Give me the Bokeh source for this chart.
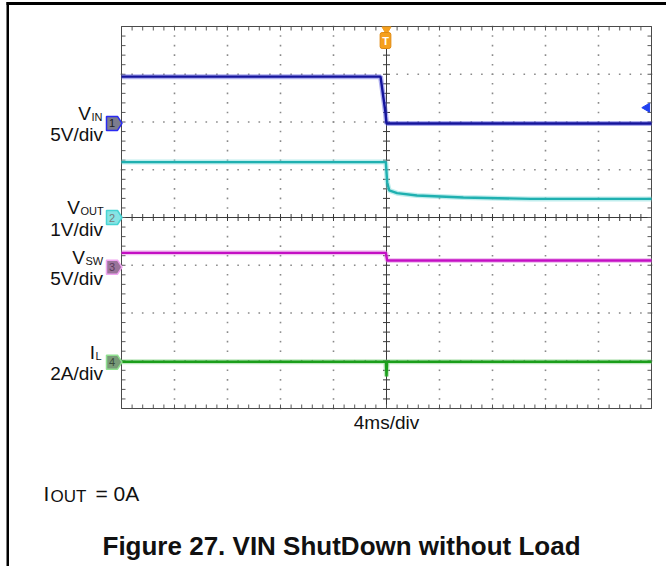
import numpy as np
from bokeh.plotting import figure
from bokeh.models import Label, BoxAnnotation
from bokeh.embed import file_html
from bokeh.resources import INLINE

# ---------------- data ----------------
time_per_div_ms = 4          # 4ms/div, trigger at centre
ch_numbers = ["1", "2", "3", "4"]
ch_names = ["V", "V", "V", "I"]
ch_subs = ["IN", "OUT", "SW", "L"]
ch_scale_labels = ["5V/div", "1V/div", "5V/div", "2A/div"]
ch_scale = [5.0, 1.0, 5.0, 2.0]            # units per division
ch_pos = [1.97, 0.0, -1.04, -3.03]         # channel ground position (div)

vin_t = [-20, -0.45, -0.08, 0.0, 20]
vin_v = [4.9, 4.9, 1.15, 0.0, 0.0]

vout_t = [-20, -0.05, 0.05, 0.2, 0.8, 2.3, 5.8, 10.9, 20]
vout_v = [1.16, 1.16, 0.74, 0.57, 0.51, 0.46, 0.42, 0.39, 0.39]

vsw_t = [-20, -0.05, 0.05, 20]
vsw_v = [1.5, 1.5, 0.7, 0.7]

il_t = [-20, -0.05, 0.0, 0.05, 20]
il_i = [0.02, 0.02, -0.6, 0.02, 0.02]

trig_level_v = 1.65   # CH1 trigger level (V)

# ---------------- layout helpers (page pixels -> data) ----------------
FL, FT, FW, FH = 121, 26, 530, 382     # scope graticule on the page
FIG_W, FIG_H = 666, 566


def X(px):
    return -20 + (px - FL) * 40.0 / FW


def Y(py):
    return 4 - (py - FT) * 8.0 / FH


def PY(div):
    return FT + (4 - div) * FH / 8.0


FONT = "Liberation Sans"
INK = "#111111"

p = figure(width=FIG_W, height=FIG_H, x_range=(X(0), X(FIG_W)), y_range=(Y(FIG_H), Y(0)),
           output_backend="svg", toolbar_location=None,
           x_axis_location=None, y_axis_location=None,
           min_border_left=0, min_border_top=0, min_border_right=0, min_border_bottom=0)
p.grid.grid_line_color = None
p.outline_line_color = None
p.background_fill_color = "white"
p.border_fill_color = "white"


def text(px, py, s, size, align="left", bold=False, color=INK):
    p.add_layout(Label(x=X(px), y=Y(py), text=s, text_align=align, text_baseline="middle",
                       text_font=FONT, text_font_size=size,
                       text_font_style="bold" if bold else "normal", text_color=color))


# ---------------- scope graticule ----------------
minor_y = np.round(np.arange(-4, 4.0001, 0.2), 3)
minor_x = np.round(np.arange(-20, 20.0001, 0.8), 3)
major_x = [-16, -12, -8, -4, 4, 8, 12, 16]
major_y = [-3, -2, -1, 1, 2, 3]

dx = [x for x in major_x for _ in minor_y]
dy = [y for _ in major_x for y in minor_y]
dx += [x for _ in major_y for x in minor_x]
dy += [y for y in major_y for _ in minor_x]
p.scatter(dx, dy, marker="square", size=1.6, color="#8a8a8a", line_color=None)

# centre cross
p.line([0, 0], [-4, 4], line_color="#3a3a3a", line_width=1)
p.line([-20, 20], [0, 0], line_color="#3a3a3a", line_width=1)
p.scatter([0] * len(minor_y), minor_y, marker="dash", size=7, line_color="#3a3a3a")
p.scatter(minor_x, [0] * len(minor_x), marker="dash", angle=np.pi / 2, size=7, line_color="#3a3a3a")

# edge ticks pointing inward
tick_dx = 40.0 / FW * 2
tick_dy = 8.0 / FH * 2
p.scatter([-20 + tick_dx] * len(minor_y), minor_y, marker="dash", size=4, line_color="#5a5a5a")
p.scatter([20 - tick_dx] * len(minor_y), minor_y, marker="dash", size=4, line_color="#5a5a5a")
p.scatter(minor_x, [4 - tick_dy] * len(minor_x), marker="dash", angle=np.pi / 2, size=4, line_color="#5a5a5a")
p.scatter(minor_x, [-4 + tick_dy] * len(minor_x), marker="dash", angle=np.pi / 2, size=4, line_color="#5a5a5a")

# graticule border
p.quad(left=-20, right=20, bottom=-4, top=4, fill_color=None, line_color="#4a4a4a", line_width=1)

# ---------------- traces ----------------
traces = [
    (il_t, il_i, 3, "#1a9e1a", "#7fd07f"),
    (vsw_t, vsw_v, 2, "#c40fc4", "#e48ae4"),
    (vout_t, vout_v, 1, "#1fb0b0", "#80dcdc"),
    (vin_t, vin_v, 0, "#14149c", "#6060e0"),
]
for t, v, ch, col, halo in traces:
    ys = [ch_pos[ch] + vv / ch_scale[ch] for vv in v]
    p.line(t, ys, line_color=halo, line_width=5, line_alpha=0.5)
    p.line(t, ys, line_color=col, line_width=2.4)

# trigger marker (top) and trigger level arrow (right)
p.scatter([0], [Y(29)], marker="inverted_triangle", size=9, color="#f5a01e")
p.add_layout(Label(x=X(385), y=Y(40), text="T", text_align="center", text_baseline="middle",
                   text_font=FONT, text_font_size="11px", text_font_style="bold",
                   text_color="white", background_fill_color="#f5a01e",
                   border_line_color="#e08a10", padding=2, border_radius=2))
p.scatter([X(646.5)], [ch_pos[0] + trig_level_v / ch_scale[0]], marker="triangle",
          angle=np.pi / 2, size=9, color="#2040f0")

# ---------------- channel markers and labels ----------------
marker_fill = ["#7c7c8e", "#86e4e4", "#9a749a", "#789a78"]
marker_line = ["#2a2af2", "#48d4d4", "#f0a4f0", "#90e090"]
marker_text = ["#202020", "#7a7a7a", "#5a3a5a", "#3a4a3a"]
name_right = [90.5, 79.5, 84.5, 94.5]

for i in range(4):
    py = PY(ch_pos[i])
    p.patch([X(106), X(117), X(121.5), X(117), X(106)],
            [Y(py - 7), Y(py - 7), Y(py), Y(py + 7), Y(py + 7)],
            fill_color=marker_fill[i], line_color=marker_line[i], line_width=1.5)
    text(111.5, py, ch_numbers[i], "11px", align="center", color=marker_text[i])
    # channel name with subscript, then the vertical scale
    text(name_right[i], py - 10, ch_names[i], "19px", align="right")
    text(name_right[i] + 0.5, py - 6.5, ch_subs[i], "11px")
    text(102.5, py + 11.5, ch_scale_labels[i], "19px", align="right")

# time base label
text(386, 421.5, "%dms/div" % time_per_div_ms, "19px", align="center")

# test condition and caption
text(43, 492.5, "I", "21px")
text(50, 496, "OUT", "17px")
text(95, 492.5, "= 0A", "21px")
text(102, 545, "Figure 27. VIN ShutDown without Load", "26px", bold=True)

# outer page frame lines
p.add_layout(BoxAnnotation(left=X(6), right=X(FIG_W + 10), top=Y(1.5), bottom=Y(4.5),
                           fill_color="black", fill_alpha=1, line_color=None))
p.add_layout(BoxAnnotation(left=X(6), right=X(8.5), top=Y(1.5), bottom=Y(FIG_H + 10),
                           fill_color="black", fill_alpha=1, line_color=None))

open("out.html", "w").write(file_html(p, INLINE))
